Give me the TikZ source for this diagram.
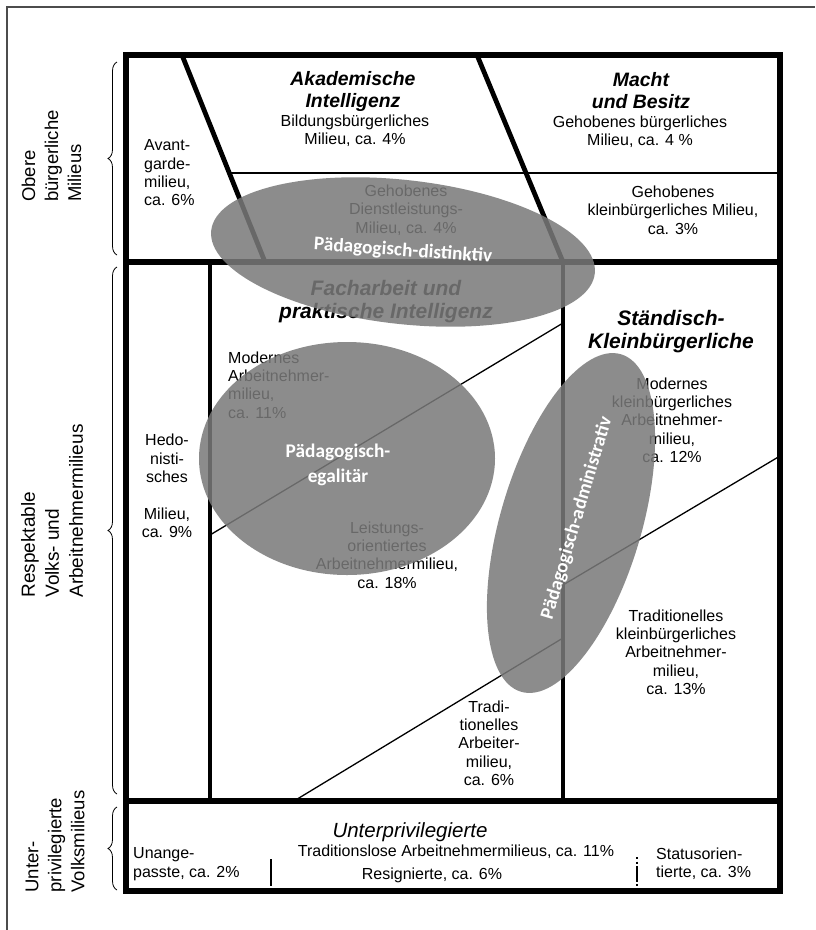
\documentclass[tikz,border=0pt]{standalone}
\usepackage{fontspec}
\setmainfont{Liberation Sans}
\newfontfamily\calfont{Carlito}
\usetikzlibrary{decorations.pathreplacing}
\begin{document}
\begin{tikzpicture}[x=1pt,y=-1pt,
  thickline/.style={line width=6pt},
  midline/.style={line width=4.8pt},
  thinline/.style={line width=1.3pt},
  txt/.style={font=\fontsize{16}{18.3}\selectfont, inner sep=0pt, align=center},
  ltxt/.style={txt, align=left},
  ttl/.style={font=\fontsize{19.4}{22}\selectfont\bfseries\itshape, inner sep=0pt, align=center},
  ttlb/.style={font=\fontsize{21}{23}\selectfont\bfseries\itshape, inner sep=0pt, align=center},
  sidelbl/.style={font=\fontsize{18.5}{23}\selectfont, inner sep=0pt, align=left, rotate=90},
  blob/.style={fill=black!52, fill opacity=0.86},
  whitelbl/.style={font=\calfont\bfseries\fontsize{19.3}{25}\selectfont, text=white, inner sep=0pt, align=center},
  brc/.style={decorate, decoration={brace, amplitude=9pt}, line width=0.8pt},
]
\useasboundingbox (0,0) rectangle (815,930);
\fill[white] (0,0) rectangle (815,930);
% outer frame
\draw[line width=1.5pt, black!70] (7,930) -- (7,7) -- (815,7);

% main structure
\draw[thickline] (126,55) rectangle (780,891);
\draw[thickline] (126,262) -- (780,262);
\draw[thickline] (126,801) -- (780,801);
\draw[midline] (210,262) -- (210,801);
\draw[midline] (563,262) -- (563,801);
\draw[midline] (182,55) -- (265,262);
\draw[midline] (477,55) -- (563,262);
\draw[thinline] (229,173) -- (780,173);
\draw[thinline] (210,535) -- (563,323);
\draw[thinline] (294,801) -- (563,638);
\draw[thinline] (563,585) -- (780,456);
\draw[thinline] (271,859) -- (271,886);
\draw[thinline, dash pattern=on 2pt off 2.5pt on 2pt off 2.5pt on 16pt] (637,857) -- (637,886);

% braces
\draw[brc] (117,255) -- (117,62);
\draw[brc] (117,794) -- (117,267);
\draw[brc] (117,890) -- (117,807);

% side labels
\node[sidelbl] (obere) at (51.5,156) {Obere\\bürgerliche\\Milieus};
\node[sidelbl, font=\fontsize{19}{24}\selectfont] (respekt) at (52,511) {Respektable\\Volks- und\\Arbeitnehmermilieus};
\node[sidelbl] (unterpr) at (55,841.5) {Unter-\\privilegierte\\Volksmilieus};

% texts
\node[ttl] (akad) at (353,91) {Akademische\\Intelligenz};
\node[txt] (bildung) at (355,131) {Bildungsbürgerliches\\Milieu, ca. 4\%};
\node[ttl] (macht) at (641,91) {Macht\\und Besitz};
\node[txt] (gehbuerg) at (640,132) {Gehobenes bürgerliches\\Milieu, ca. 4 \%};
\node[ltxt, anchor=west] (avant) at (144,173) {Avant-\\garde-\\milieu,\\ca. 6\%};
\node[txt] (gehdienst) at (406,210) {Gehobenes\\Dienstleistungs-\\Milieu, ca. 4\%};
\node[txt] (gehklein) at (673,210) {Gehobenes\\kleinbürgerliches Milieu,\\ca. 3\%};
\node[ttlb] (fach) at (386,302) {Facharbeit und\\praktische Intelligenz};
\node[ttlb] (staend) at (671,332) {Ständisch-\\Kleinbürgerliche};
\node[ltxt, anchor=west] (modarb) at (228,385) {Modernes\\Arbeitnehmer-\\milieu,\\ca. 11\%};
\node[txt] (hedo) at (167,486) {Hedo-\\nisti-\\sches\\~\\Milieu,\\ca. 9\%};
\node[txt] (leist) at (387,555) {Leistungs-\\orientiertes\\Arbeitnehmermilieu,\\ca. 18\%};
\node[txt] (modklein) at (672,420) {Modernes\\kleinbürgerliches\\Arbeitnehmer-\\milieu,\\ca. 12\%};
\node[txt] (tradklein) at (676,652) {Traditionelles\\kleinbürgerliches\\Arbeitnehmer-\\milieu,\\ca. 13\%};
\node[txt] (tradarb) at (489,743) {Tradi-\\tionelles\\Arbeiter-\\milieu,\\ca. 6\%};
\node[font=\fontsize{20.5}{23}\selectfont\itshape, inner sep=0pt] (unterp) at (410,832) {Unterprivilegierte};
\node[txt] (tradlos) at (456,852) {Traditionslose Arbeitnehmermilieus, ca. 11\%};
\node[txt] (resig) at (432,875) {Resignierte, ca. 6\%};
\node[ltxt, anchor=west] (unange) at (133,864) {Unange-\\passte, ca. 2\%};
\node[ltxt, anchor=west] (status) at (656,864) {Statusorien-\\tierte, ca. 3\%};

% ellipses
\fill[blob, rotate around={-6.4:(403,252)}] (403,252) ellipse [x radius=193, y radius=72];
\fill[blob] (347,458.5) ellipse [x radius=148, y radius=116.5];
\fill[blob, rotate around={-16.5:(571,523)}] (571,523) ellipse [x radius=70.5, y radius=176];

% white labels
\node[whitelbl, rotate=-4] (distinktiv) at (403,251) {Pädagogisch-distinktiv};
\node[whitelbl] (egal) at (338,465) {Pädagogisch-\\egalitär};
\node[whitelbl, rotate=73.5] (admin) at (577,518) {Pädagogisch-administrativ};
\end{tikzpicture}
\end{document}
